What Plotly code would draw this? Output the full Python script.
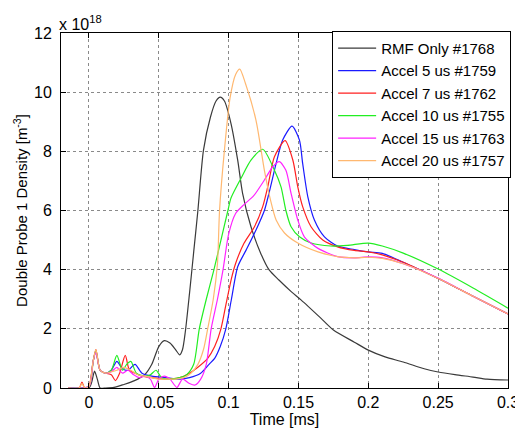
import plotly.graph_objects as go

# ---- data (density in units of 1e18 m^-3, time in ms) ----
rmf_t = [-0.015, 0.0, 0.002, 0.004, 0.006, 0.008, 0.012, 0.018, 0.025, 0.03, 0.035, 0.04, 0.045,
         0.05, 0.054, 0.058, 0.062, 0.065, 0.067, 0.069, 0.072, 0.075, 0.078, 0.082, 0.087, 0.091,
         0.094, 0.097, 0.1017, 0.1065, 0.110, 0.116, 0.123, 0.129, 0.136, 0.145, 0.152, 0.166,
         0.175, 0.19, 0.2, 0.212, 0.225, 0.24, 0.25, 0.262, 0.275, 0.285, 0.3]
rmf_n = [0, 0, 0.2, 0.57, 0.3, 0, 0, 0.02, 0.12, 0.2, 0.3, 0.45, 0.8,
         1.4, 1.6, 1.52, 1.3, 1.12, 1.3, 1.9, 3.2, 4.6, 6.0, 8.04, 9.16, 9.7,
         9.83, 9.7, 8.94, 7.7, 6.58, 5.45, 4.55, 3.99, 3.65, 3.25, 2.97, 2.36,
         1.96, 1.55, 1.28, 1.05, 0.88, 0.65, 0.54, 0.45, 0.37, 0.3, 0.27]

a5_t = [-0.015, -0.005, 0.0, 0.003, 0.005, 0.008, 0.012, 0.016, 0.02, 0.024, 0.028, 0.033, 0.038,
        0.045, 0.055, 0.065, 0.072, 0.08, 0.086, 0.09, 0.094, 0.098, 0.102, 0.1065, 0.1125,
        0.1196, 0.1256, 0.130, 0.134, 0.1387, 0.1454, 0.1507, 0.153, 0.1567, 0.1614, 0.1686,
        0.178, 0.19, 0.2, 0.21, 0.225, 0.25, 0.275, 0.3]
a5_n = [0, 0, 0.05, 0.9, 1.25, 0.6, 0.5, 0.6, 0.9, 0.65, 0.6, 0.8, 0.5,
        0.4, 0.35, 0.3, 0.35, 0.5, 0.8, 1.0, 1.4, 2.0, 3.0, 4.1, 4.66,
        5.34, 6.0, 6.8, 7.59, 8.38, 8.85, 8.38, 7.59, 6.46, 5.68, 5.11,
        4.8, 4.68, 4.6, 4.55, 4.25, 3.7, 3.1, 2.5]

a7_t = [-0.015, -0.007, -0.005, -0.003, 0.0, 0.003, 0.005, 0.008, 0.012, 0.016, 0.019, 0.022,
        0.026, 0.029, 0.033, 0.038, 0.045, 0.055, 0.065, 0.072, 0.078, 0.085, 0.09, 0.0945,
        0.098, 0.102, 0.105, 0.111, 0.1185, 0.1244, 0.128, 0.1328, 0.1404, 0.146, 0.1495,
        0.153, 0.159, 0.1674, 0.178, 0.19, 0.2, 0.21, 0.225, 0.25, 0.275, 0.3]
a7_n = [0, 0, 0.2, 0, 0.05, 0.9, 1.3, 0.6, 0.5, 0.45, 0.25, 0.5,
        1.1, 0.6, 0.5, 0.4, 0.35, 0.3, 0.35, 0.5, 0.7, 1.0, 1.4, 2.0,
        2.8, 3.7, 4.21, 4.89, 5.45, 6.13, 6.8, 7.82, 8.36, 7.7, 6.8,
        6.13, 5.45, 5.0, 4.77, 4.65, 4.6, 4.5, 4.25, 3.7, 3.1, 2.5]

a10_t = [-0.015, 0.0, 0.003, 0.005, 0.008, 0.012, 0.016, 0.02, 0.024, 0.027, 0.03, 0.034, 0.04,
         0.044, 0.048, 0.052, 0.058, 0.065, 0.07, 0.075, 0.079, 0.084, 0.0895, 0.0945, 0.0995,
         0.1017, 0.109, 0.116, 0.1244, 0.1328, 0.1375, 0.141, 0.1447, 0.1507, 0.159, 0.173,
         0.185, 0.2, 0.21, 0.225, 0.25, 0.275, 0.3]
a10_n = [0, 0.05, 0.9, 1.25, 0.6, 0.5, 0.6, 1.1, 0.6, 0.8, 0.9, 0.5, 0.4,
         0.45, 0.6, 0.35, 0.3, 0.35, 0.45, 0.8, 2.0, 3.0, 4.0, 5.0, 6.0,
         6.42, 7.1, 7.7, 8.07, 7.36, 6.8, 6.0, 5.45, 5.11, 4.9, 4.8,
         4.82, 4.9, 4.8, 4.56, 4.02, 3.38, 2.7]

a15_t = [-0.015, 0.0, 0.003, 0.005, 0.008, 0.012, 0.016, 0.02, 0.024, 0.028, 0.032, 0.036, 0.04,
         0.044, 0.047, 0.05, 0.054, 0.058, 0.063, 0.067, 0.072, 0.076, 0.08, 0.084, 0.0875,
         0.092, 0.096, 0.1, 0.105, 0.111, 0.118, 0.1256, 0.1316, 0.1363, 0.141, 0.1447, 0.1495,
         0.1542, 0.164, 0.178, 0.19, 0.2, 0.21, 0.225, 0.25, 0.275, 0.3]
a15_n = [0, 0.05, 0.9, 1.2, 0.6, 0.5, 0.55, 0.7, 0.5, 0.6, 0.45, 0.35, 0.4,
         0.3, 0.02, 0.3, 0.4, 0.3, 0.02, 0.3, 0.15, 0.1, 0.3, 0.8, 2.0,
         3.0, 4.0, 5.2, 5.9, 6.2, 6.5, 7.03, 7.48, 7.65, 7.36, 6.58, 5.68,
         5.11, 4.72, 4.44, 4.4, 4.43, 4.4, 4.2, 3.72, 3.1, 2.5]

a20_t = [-0.015, -0.007, -0.005, -0.003, 0.0, 0.003, 0.005, 0.008, 0.012, 0.016, 0.02, 0.025,
         0.03, 0.035, 0.04, 0.045, 0.05, 0.055, 0.062, 0.068, 0.073, 0.078, 0.082, 0.085, 0.089,
         0.092, 0.0935, 0.097, 0.101, 0.105, 0.108, 0.112, 0.1196, 0.1256, 0.130, 0.134, 0.140,
         0.1495, 0.164, 0.178, 0.19, 0.2, 0.21, 0.225, 0.25, 0.275, 0.3]
a20_n = [0, 0, 0.15, 0, 0.05, 0.9, 1.3, 0.6, 0.5, 0.55, 0.6, 0.7,
         0.6, 0.45, 0.4, 0.35, 0.3, 0.3, 0.3, 0.35, 0.5, 0.8, 1.3, 2.0, 3.0,
         4.2, 6.0, 8.04, 9.8, 10.6, 10.78, 10.3, 9.05, 7.36, 6.35, 5.68, 5.24,
         4.9, 4.6, 4.44, 4.4, 4.42, 4.38, 4.2, 3.7, 3.1, 2.5]

series = [
    ("RMF Only #1768", rmf_t, rmf_n, "#3a3a3a"),
    ("Accel 5 us #1759", a5_t, a5_n, "#1a1aff"),
    ("Accel 7 us #1762", a7_t, a7_n, "#ff2020"),
    ("Accel 10 us #1755", a10_t, a10_n, "#22ee22"),
    ("Accel 15 us #1763", a15_t, a15_n, "#ff22ff"),
    ("Accel 20 us #1757", a20_t, a20_n, "#ffb870"),
]

x_ticks = [0, 0.05, 0.1, 0.15, 0.2, 0.25, 0.3]
x_tick_text = ["0", "0.05", "0.1", "0.15", "0.2", "0.25", "0.3"]
y_ticks = [0, 2, 4, 6, 8, 10, 12]

fig = go.Figure()
for name, t, n, c in series:
    fig.add_trace(go.Scatter(x=t, y=n, mode="lines", name=name,
                             line=dict(color=c, width=1.2, shape="spline", smoothing=0.7)))

font = "Liberation Sans, Arial, sans-serif"
axis_common = dict(
    showline=True, linecolor="black", linewidth=1, mirror="ticks",
    ticks="inside", ticklen=5, tickcolor="black",
    showgrid=True, gridcolor="#8a8a8a", griddash="dot", gridwidth=1,
    zeroline=False, automargin=False,
    tickfont=dict(size=16, color="black", family=font),
)

# the page body has an 8px default margin, so the figure is sized to fit the window
fig.update_layout(
    width=515, height=424,
    margin=dict(l=53, r=15, t=25, b=44, autoexpand=False),
    paper_bgcolor="white", plot_bgcolor="white",
    font=dict(family=font, color="black"),
    xaxis=dict(range=[-0.02, 0.3], tickvals=x_ticks, ticktext=x_tick_text,
               title=dict(text="Time [ms]", font=dict(size=16), standoff=2),
               **axis_common),
    yaxis=dict(range=[0, 12], tickvals=y_ticks, ticklabelstandoff=5,
               title=dict(text="Double Probe 1 Density [m<sup>-3</sup>]",
                          font=dict(size=15), standoff=2),
               **axis_common),
    legend=dict(x=1.007, xanchor="right", y=1.006, yanchor="top",
                bgcolor="white", bordercolor="black", borderwidth=1,
                font=dict(size=15, color="black", family=font),
                tracegroupgap=0, itemwidth=38),
    showlegend=True,
)

fig.add_annotation(text="x 10<sup>18</sup>", xref="paper", yref="paper",
                   x=0, y=1, xanchor="left", yanchor="bottom", showarrow=False,
                   font=dict(size=16, color="black", family=font), xshift=-4, yshift=-2)

fig.write_html("out.html")
